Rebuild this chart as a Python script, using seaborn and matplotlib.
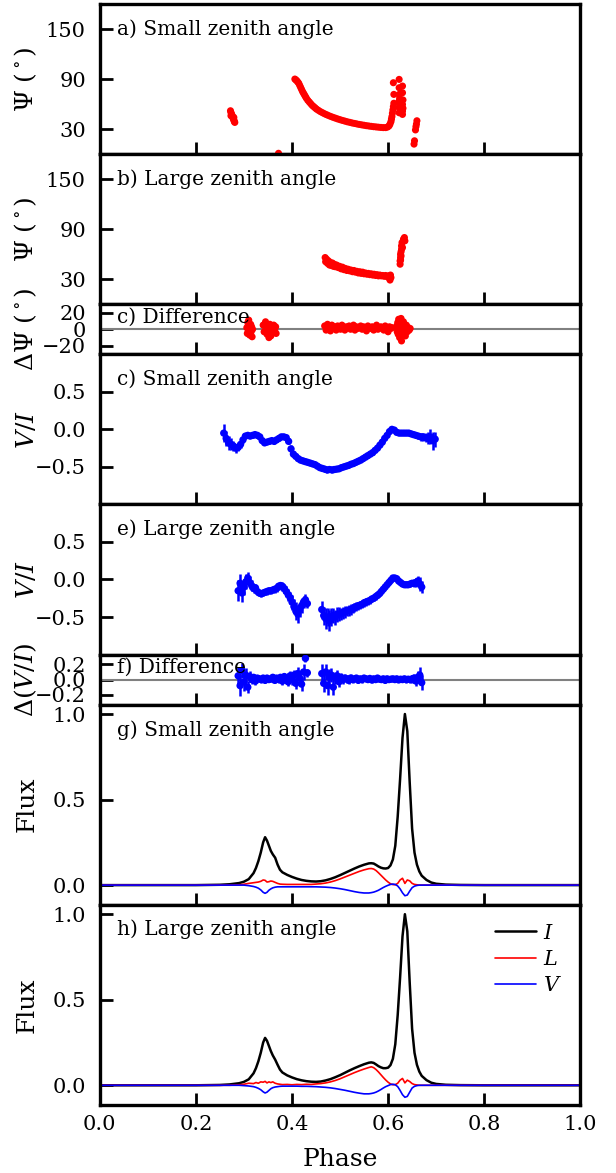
import numpy as np
import pandas as pd
import seaborn as sns
import matplotlib
matplotlib.use("Agg")
import matplotlib.pyplot as plt

# ---------------------------------------------------------------- data
# Position angle, small zenith angle (phase, degrees)
pa_small_phase = [0.272, 0.273, 0.273, 0.274, 0.275, 0.276, 0.277, 0.278, 0.279, 0.279, 0.280, 0.281,
                  0.372,
                  0.406, 0.408, 0.410, 0.412, 0.414, 0.416, 0.418, 0.420, 0.422, 0.424, 0.426, 0.428,
                  0.430, 0.433, 0.436, 0.439, 0.442, 0.445, 0.448, 0.451, 0.455, 0.459, 0.463, 0.467,
                  0.471, 0.475, 0.480, 0.485, 0.490, 0.495, 0.500, 0.505, 0.510, 0.515, 0.520, 0.525,
                  0.530, 0.535, 0.540, 0.545, 0.550, 0.555, 0.560, 0.565, 0.570, 0.575, 0.580, 0.585,
                  0.590, 0.595, 0.599, 0.602, 0.604, 0.606, 0.607, 0.608, 0.609, 0.610, 0.611, 0.612,
                  0.611, 0.612, 0.623, 0.623, 0.623, 0.623, 0.623, 0.623, 0.624, 0.624,
                  0.630, 0.630, 0.630, 0.630, 0.630, 0.631, 0.631,
                  0.660, 0.659, 0.658, 0.657, 0.655, 0.654]
pa_small = [52, 50, 46, 48, 47, 45, 44, 42, 41, 44, 39, 38,
            1.0,
            90, 89, 88, 86.5, 85, 82.5, 80, 77.5, 75, 73, 71, 69,
            67, 64.5, 62.5, 60.5, 58.5, 57, 55.5, 54, 52.5, 51, 49.8, 48.6,
            47.5, 46.5, 45.3, 44.2, 43.2, 42.2, 41.3, 40.4, 39.6, 38.8, 38.1, 37.4,
            36.8, 36.2, 35.6, 35.1, 34.6, 34.1, 33.7, 33.3, 32.9, 32.6, 32.3, 32.0,
            31.8, 31.8, 32.5, 33.8, 36, 39, 42, 45, 49, 53, 57, 61,
            85.6, 71.6, 89.6, 79.6, 71.6, 63.6, 55.6, 49.6, 60, 67,
            81.6, 73.6, 59.6, 51.6, 47.6, 55, 65,
            40, 36, 33, 29, 16, 12]

# Position angle, large zenith angle
pa_large_phase = [0.469, 0.470, 0.472, 0.474, 0.476, 0.478, 0.480, 0.482, 0.484, 0.486, 0.488, 0.490,
                  0.493, 0.496, 0.499, 0.502, 0.505, 0.508, 0.511, 0.514, 0.517, 0.520, 0.523, 0.526,
                  0.529, 0.532, 0.535, 0.538, 0.541, 0.544, 0.547, 0.550, 0.553, 0.556, 0.559, 0.562,
                  0.565, 0.568, 0.571, 0.574, 0.577, 0.580, 0.583, 0.586, 0.589, 0.592, 0.595, 0.598,
                  0.601, 0.603, 0.604, 0.605, 0.606,
                  0.625, 0.625, 0.626, 0.626, 0.627, 0.628, 0.628, 0.629, 0.632, 0.634, 0.635, 0.627,
                  0.626, 0.630]
pa_large = [56, 51, 54, 49, 52, 47, 50, 46.5, 49.5, 45.5, 48, 45,
            47, 44, 45.5, 42.5, 44.5, 41.5, 43, 40.5, 42, 40, 41, 39,
            40.5, 38.5, 39.5, 37.5, 39, 37, 38.5, 36.5, 37.5, 36, 37, 35.5,
            36.5, 35, 36, 34.5, 35.5, 34, 35, 34, 34.5, 33.5, 34.5, 33,
            34, 31, 29, 35, 32,
            48, 52, 56, 60, 63, 66, 70, 74, 78, 80, 76, 58,
            53, 68]

# Position angle difference
dpa_phase = [0.306, 0.307, 0.308, 0.309, 0.310, 0.311, 0.312, 0.313, 0.314, 0.315, 0.316, 0.317, 0.318,
             0.340, 0.342, 0.344, 0.346, 0.348, 0.350, 0.352, 0.354, 0.356, 0.358, 0.360, 0.362,
             0.364, 0.366, 0.367, 0.352, 0.345,
             0.468, 0.471, 0.474, 0.477, 0.480, 0.483, 0.486, 0.489, 0.492, 0.495, 0.498, 0.501,
             0.504, 0.507, 0.510, 0.513, 0.516, 0.519, 0.522, 0.525, 0.528, 0.531, 0.534, 0.537,
             0.540, 0.543, 0.546, 0.549, 0.552, 0.555, 0.558, 0.561, 0.564, 0.567, 0.570, 0.573,
             0.576, 0.579, 0.582, 0.585, 0.588, 0.591, 0.594, 0.597, 0.600, 0.603, 0.606, 0.608,
             0.618, 0.619, 0.620, 0.621, 0.622, 0.623, 0.624, 0.625, 0.626, 0.627, 0.628, 0.629,
             0.630, 0.632, 0.634, 0.636, 0.638, 0.640, 0.642, 0.644, 0.646]
dpa = [2, -5, 8, -2, 11, 4, -7, 1, 6, -3, 3, -9, 0,
       5, -3, 7, 0, -6, 4, -2, 6, -8, 2, -4, 5,
       -1, 3, -5, -10, 9,
       4, -1, 6, 2, -2, 5, 1, 3, -1, 4, 2, 0,
       5, 1, -1, 3, 2, 4, 0, 2, 5, -1, 3, 1,
       2, 4, 0, 3, 1, -2, 4, 2, 1, 3, -1, 2,
       5, 0, 2, 3, 1, -1, 4, 2, -3, 3, 1, 2,
       4, -3, 8, -6, 12, 2, -10, 6, -2, 13, -14, 3,
       -5, 9, 0, -8, 5, -3, 2, -1, 1]

# Circular fraction V/I, small zenith angle (bins of 0.005 from phase 0.258)
vi_small_start = 0.258
vi_small = [-0.05, -0.12, -0.18, -0.20, -0.22, -0.25, -0.24, -0.20, -0.14, -0.09,
            -0.08, -0.09, -0.08, -0.07, -0.08, -0.10, -0.15, -0.18, -0.17, -0.16,
            -0.15, -0.16, -0.14, -0.12, -0.10, -0.10, -0.11, -0.16, -0.26, -0.33,
            -0.36, -0.39, -0.41, -0.42, -0.43, -0.44, -0.45, -0.46, -0.47, -0.49,
            -0.51, -0.52, -0.53, -0.54, -0.535, -0.54, -0.535, -0.53, -0.525, -0.51,
            -0.50, -0.49, -0.48, -0.465, -0.455, -0.44, -0.425, -0.41, -0.39, -0.37,
            -0.35, -0.33, -0.31, -0.28, -0.25, -0.21, -0.17, -0.12, -0.08, -0.03,
            0.00, -0.01, -0.04, -0.05, -0.05, -0.05, -0.05, -0.05, -0.06, -0.07,
            -0.08, -0.09, -0.10, -0.10, -0.11, -0.12, -0.10, -0.15, -0.13]
vi_small_err = [0.12, 0.10, 0.09, 0.08, 0.07, 0.06, 0.05, 0.05, 0.04, 0.04,
                0.035, 0.03, 0.035, 0.03, 0.03, 0.035, 0.03, 0.03, 0.03, 0.03,
                0.03, 0.03, 0.03, 0.03, 0.03, 0.03, 0.03, 0.04, 0.05, 0.04,
                0.03, 0.03, 0.03, 0.03, 0.03, 0.03, 0.03, 0.03, 0.03, 0.03,
                0.035, 0.035, 0.035, 0.04, 0.035, 0.035, 0.03, 0.03, 0.03, 0.03,
                0.025, 0.025, 0.025, 0.025, 0.025, 0.025, 0.025, 0.025, 0.025, 0.025,
                0.025, 0.025, 0.025, 0.025, 0.025, 0.025, 0.025, 0.025, 0.025, 0.025,
                0.025, 0.025, 0.025, 0.025, 0.025, 0.025, 0.025, 0.03, 0.03, 0.03,
                0.035, 0.04, 0.05, 0.05, 0.06, 0.08, 0.10, 0.12, 0.10]

# Circular fraction V/I, large zenith angle (two on-pulse windows, bins of 0.004)
vi_large_start = [0.288, 0.462]
vi_large = [
    [-0.15, -0.05, -0.18, -0.10, -0.03, 0.02, -0.04, -0.08, -0.12, -0.11,
     -0.16, -0.18, -0.19, -0.18, -0.17, -0.16, -0.15, -0.15, -0.14, -0.13,
     -0.12, -0.09, -0.08, -0.09, -0.12, -0.16, -0.20, -0.24, -0.30, -0.36,
     -0.42, -0.46, -0.40, -0.35, -0.30, -0.27, -0.32],
    [-0.40, -0.48, -0.52, -0.50, -0.55, -0.50, -0.48, -0.50, -0.47, -0.46,
     -0.46, -0.44, -0.43, -0.42, -0.41, -0.40, -0.39, -0.37, -0.36, -0.35,
     -0.34, -0.33, -0.31, -0.30, -0.29, -0.28, -0.26, -0.25, -0.23, -0.21,
     -0.19, -0.16, -0.13, -0.10, -0.07, -0.04, -0.01, 0.02, 0.02, 0.01,
     -0.02, -0.04, -0.06, -0.07, -0.07, -0.07, -0.06, -0.05, -0.05, -0.04,
     -0.02, -0.06, -0.10]]
vi_large_err = [
    [0.14, 0.12, 0.12, 0.10, 0.10, 0.08, 0.08, 0.07, 0.06, 0.05,
     0.05, 0.04, 0.04, 0.04, 0.04, 0.04, 0.04, 0.04, 0.04, 0.05,
     0.05, 0.05, 0.05, 0.06, 0.06, 0.07, 0.08, 0.08, 0.10, 0.10,
     0.12, 0.12, 0.10, 0.10, 0.08, 0.08, 0.06],
    [0.12, 0.12, 0.14, 0.12, 0.14, 0.12, 0.10, 0.10, 0.10, 0.09,
     0.08, 0.08, 0.08, 0.07, 0.07, 0.07, 0.06, 0.06, 0.06, 0.05,
     0.05, 0.05, 0.05, 0.05, 0.045, 0.045, 0.04, 0.04, 0.04, 0.04,
     0.04, 0.04, 0.035, 0.035, 0.035, 0.035, 0.035, 0.03, 0.03, 0.03,
     0.03, 0.03, 0.03, 0.03, 0.035, 0.035, 0.04, 0.04, 0.05, 0.06,
     0.07, 0.09, 0.08]]

# Difference in V/I (same bins as the large zenith angle)
dvi = [
    [0.05, -0.08, 0.12, -0.03, 0.06, -0.10, 0.04, 0.0, 0.03, -0.02,
     0.02, 0.01, 0.0, 0.02, -0.01, 0.02, 0.0, 0.01, 0.03, -0.01,
     0.02, 0.0, 0.03, -0.02, 0.04, 0.01, -0.03, 0.05, 0.0, 0.06,
     -0.05, 0.08, 0.02, -0.06, 0.10, 0.28, 0.09],
    [0.08, -0.05, 0.10, -0.08, 0.04, 0.06, -0.10, 0.02, 0.05, -0.03,
     0.03, 0.0, 0.02, 0.01, -0.01, 0.02, 0.0, 0.01, 0.02, -0.01,
     0.01, 0.0, 0.02, 0.01, 0.0, 0.015, -0.005, 0.01, 0.0, 0.02,
     0.005, 0.0, 0.01, -0.01, 0.01, 0.0, 0.005, 0.01, 0.0, 0.01,
     -0.005, 0.005, 0.0, 0.01, 0.0, 0.005, 0.0, 0.01, 0.02, -0.02,
     0.03, 0.06, -0.04]]
dvi_err = [
    [0.12, 0.14, 0.10, 0.12, 0.09, 0.08, 0.07, 0.06, 0.05, 0.05,
     0.04, 0.04, 0.04, 0.035, 0.035, 0.035, 0.035, 0.04, 0.04, 0.04,
     0.04, 0.045, 0.05, 0.05, 0.05, 0.06, 0.06, 0.06, 0.07, 0.07,
     0.08, 0.08, 0.09, 0.09, 0.10, 0.05, 0.05],
    [0.12, 0.12, 0.10, 0.12, 0.10, 0.09, 0.10, 0.08, 0.08, 0.07,
     0.06, 0.06, 0.05, 0.05, 0.05, 0.05, 0.045, 0.045, 0.04, 0.04,
     0.04, 0.04, 0.04, 0.035, 0.035, 0.035, 0.035, 0.035, 0.03, 0.03,
     0.03, 0.03, 0.03, 0.03, 0.03, 0.03, 0.03, 0.03, 0.03, 0.03,
     0.03, 0.03, 0.035, 0.035, 0.04, 0.04, 0.045, 0.05, 0.06, 0.07,
     0.08, 0.10, 0.10]]

# Normalised pulse profiles
flux_phase = [0.0, 0.1, 0.2, 0.25, 0.27, 0.29, 0.30, 0.31, 0.32, 0.325,
              0.33, 0.335, 0.34, 0.344, 0.348, 0.352, 0.356, 0.36, 0.365, 0.37,
              0.375, 0.38, 0.39, 0.40, 0.41, 0.42, 0.43, 0.44, 0.45, 0.46,
              0.47, 0.48, 0.49, 0.50, 0.51, 0.52, 0.53, 0.54, 0.55, 0.56,
              0.565, 0.57, 0.575, 0.58, 0.585, 0.59, 0.595, 0.60, 0.605, 0.61,
              0.615, 0.62, 0.625, 0.63, 0.635, 0.64, 0.645, 0.65, 0.655, 0.66,
              0.665, 0.67, 0.68, 0.69, 0.70, 0.72, 0.75, 0.8, 0.9, 1.0]
I_small = [0.0, 0.0, 0.0, 0.002, 0.005, 0.012, 0.02, 0.035, 0.07, 0.10,
           0.14, 0.19, 0.25, 0.28, 0.26, 0.23, 0.20, 0.18, 0.16, 0.12,
           0.09, 0.075, 0.06, 0.048, 0.038, 0.03, 0.025, 0.022, 0.021, 0.023,
           0.028, 0.036, 0.046, 0.058, 0.071, 0.084, 0.097, 0.109, 0.119, 0.127,
           0.128, 0.126, 0.118, 0.109, 0.102, 0.098, 0.097, 0.10, 0.115, 0.15,
           0.23, 0.40, 0.62, 0.86, 1.0, 0.90, 0.60, 0.33, 0.19, 0.12,
           0.08, 0.055, 0.03, 0.015, 0.008, 0.003, 0.001, 0.0, 0.0, 0.0]
L_small = [0, 0, 0, 0, 0, 0.002, 0.005, 0.01, 0.014, 0.016,
           0.018, 0.022, 0.03, 0.028, 0.018, 0.02, 0.024, 0.022, 0.016, 0.01,
           0.006, 0.005, 0.004, 0.004, 0.004, 0.004, 0.004, 0.004, 0.006, 0.008,
           0.012, 0.018, 0.026, 0.036, 0.047, 0.058, 0.069, 0.08, 0.089, 0.096,
           0.097, 0.094, 0.085, 0.072, 0.058, 0.044, 0.03, 0.018, 0.008, 0.003,
           0.002, 0.01, 0.03, 0.04, 0.01, 0.03, 0.025, 0.01, 0.004, 0.002,
           0, 0, 0, 0, 0, 0, 0, 0, 0, 0]
V_small = [0, 0, 0, 0, 0, 0, 0, -0.003, -0.008, -0.012,
           -0.018, -0.028, -0.042, -0.048, -0.042, -0.03, -0.022, -0.016, -0.012, -0.01,
           -0.01, -0.01, -0.01, -0.01, -0.01, -0.01, -0.01, -0.01, -0.01, -0.011,
           -0.012, -0.014, -0.017, -0.021, -0.026, -0.032, -0.038, -0.043, -0.046, -0.046,
           -0.044, -0.041, -0.036, -0.03, -0.022, -0.014, -0.007, -0.001, 0.004, 0.006,
           0.004, -0.005, -0.022, -0.045, -0.062, -0.058, -0.035, -0.015, -0.006, -0.002,
           0, 0, 0, 0, 0, 0, 0, 0, 0, 0]
I_large = [0.0, 0.0, 0.0, 0.002, 0.005, 0.012, 0.02, 0.035, 0.07, 0.10,
           0.14, 0.19, 0.25, 0.277, 0.26, 0.23, 0.20, 0.175, 0.15, 0.12,
           0.092, 0.075, 0.058, 0.046, 0.036, 0.029, 0.024, 0.021, 0.02, 0.022,
           0.028, 0.036, 0.047, 0.059, 0.073, 0.087, 0.1, 0.112, 0.123, 0.132,
           0.134, 0.131, 0.122, 0.112, 0.105, 0.1, 0.1, 0.103, 0.118, 0.155,
           0.24, 0.41, 0.63, 0.87, 1.0, 0.90, 0.60, 0.33, 0.19, 0.12,
           0.08, 0.055, 0.03, 0.015, 0.008, 0.003, 0.001, 0.0, 0.0, 0.0]
L_large = [0, 0, 0, 0, 0, 0.003, 0.006, 0.012, 0.01, 0.016,
           0.012, 0.02, 0.018, 0.023, 0.014, 0.02, 0.016, 0.02, 0.012, 0.008,
           0.006, 0.004, 0.005, 0.003, 0.005, 0.004, 0.006, 0.005, 0.008, 0.01,
           0.014, 0.02, 0.028, 0.038, 0.05, 0.062, 0.074, 0.085, 0.095, 0.104,
           0.108, 0.103, 0.092, 0.078, 0.062, 0.046, 0.031, 0.018, 0.008, 0.003,
           0.004, 0.012, 0.03, 0.04, 0.014, 0.03, 0.022, 0.01, 0.004, 0.002,
           0, 0, 0, 0, 0, 0, 0, 0, 0, 0]
V_large = [0, 0, 0, 0, 0, 0, -0.002, -0.004, -0.008, -0.012,
           -0.018, -0.026, -0.038, -0.045, -0.04, -0.03, -0.02, -0.014, -0.01, -0.008,
           -0.006, -0.005, -0.005, -0.005, -0.005, -0.006, -0.006, -0.007, -0.008, -0.01,
           -0.012, -0.015, -0.019, -0.024, -0.029, -0.035, -0.041, -0.046, -0.05, -0.05,
           -0.048, -0.045, -0.04, -0.033, -0.025, -0.016, -0.008, -0.002, 0.004, 0.006,
           0.003, -0.008, -0.03, -0.055, -0.07, -0.065, -0.04, -0.016, -0.006, -0.002,
           0, 0, 0, 0, 0, 0, 0, 0, 0, 0]

panel_labels = ["a) Small zenith angle", "b) Large zenith angle", "c) Difference",
                "c) Small zenith angle", "e) Large zenith angle", "f) Difference",
                "g) Small zenith angle", "h) Large zenith angle"]

# ---------------------------------------------------------------- style
sns.set_style("white")
plt.rcParams.update({
    "font.family": ["DejaVu Serif"],
    "mathtext.fontset": "dejavuserif",
    "axes.linewidth": 2.4,
    "axes.edgecolor": "black",
    "xtick.direction": "in",
    "ytick.direction": "in",
    "xtick.major.size": 9,
    "ytick.major.size": 9,
    "xtick.major.width": 2.0,
    "ytick.major.width": 2.0,
    "xtick.major.pad": 7,
    "ytick.major.pad": 10,
    "xtick.labelsize": 15,
    "ytick.labelsize": 15,
    "xtick.color": "black",
    "ytick.color": "black",
    "axes.labelsize": 18,
    "text.color": "black",
    "axes.labelcolor": "black",
})

fig = plt.figure(figsize=(6.16, 11.73), dpi=100)
gs = fig.add_gridspec(8, 1, height_ratios=[3, 3, 1, 3, 3, 1, 4, 4], hspace=0,
                      left=0.162, right=0.942, top=0.9966, bottom=0.058)
axes = [fig.add_subplot(gs[i]) for i in range(8)]


def bins(start, values, step):
    return np.round(start + step * np.arange(len(values)), 4)


def pa_points(ax, phase, pa):
    df = pd.DataFrame({"phase": phase, "pa": pa})
    sns.scatterplot(data=df, x="phase", y="pa", ax=ax, color="red", s=26,
                    edgecolor="none", legend=False, zorder=3)


def vi_points(ax, phase, vals, errs):
    df = pd.DataFrame({"phase": phase, "v": vals, "e": errs})
    ax.vlines(df["phase"], df["v"] - df["e"], df["v"] + df["e"], color="blue", lw=1.8, zorder=2)
    sns.scatterplot(data=df, x="phase", y="v", ax=ax, color="blue", s=28,
                    edgecolor="none", legend=False, zorder=3)


# a, b: position angle
pa_points(axes[0], pa_small_phase, pa_small)
pa_points(axes[1], pa_large_phase, pa_large)
for ax in axes[:2]:
    ax.set_ylim(0, 180)
    ax.set_yticks([30, 90, 150])
    ax.set_ylabel(r"$\Psi\ (^\circ)$")

# position angle difference
axes[2].axhline(0, color="gray", lw=1.5, zorder=1)
pa_points(axes[2], dpa_phase, dpa)
axes[2].set_ylim(-30, 30)
axes[2].set_yticks([-20, 0, 20])
axes[2].set_ylabel(r"$\Delta\Psi\ (^\circ)$")

# V/I
vi_points(axes[3], bins(vi_small_start, vi_small, 0.005), vi_small, vi_small_err)
for start, vals, errs in zip(vi_large_start, vi_large, vi_large_err):
    vi_points(axes[4], bins(start, vals, 0.004), vals, errs)
for ax in axes[3:5]:
    ax.set_ylim(-1, 1)
    ax.set_yticks([-0.5, 0.0, 0.5])
    ax.set_ylabel(r"$V/I$")

# V/I difference
axes[5].axhline(0, color="gray", lw=1.5, zorder=1)
for start, vals, errs in zip(vi_large_start, dvi, dvi_err):
    vi_points(axes[5], bins(start, vals, 0.004), vals, errs)
axes[5].set_ylim(-0.33, 0.33)
axes[5].set_yticks([-0.2, 0.0, 0.2])
axes[5].set_ylabel(r"$\Delta(V/I)$")

# pulse profiles
for ax, I, L, V in [(axes[6], I_small, L_small, V_small), (axes[7], I_large, L_large, V_large)]:
    sns.lineplot(x=flux_phase, y=I, ax=ax, color="black", lw=1.8, label=r"$I$")
    sns.lineplot(x=flux_phase, y=L, ax=ax, color="red", lw=1.2, label=r"$L$")
    sns.lineplot(x=flux_phase, y=V, ax=ax, color="blue", lw=1.2, label=r"$V$")
    ax.set_ylim(-0.115, 1.055)
    ax.set_yticks([0.0, 0.5, 1.0])
    ax.set_ylabel("Flux")
axes[6].get_legend().remove()
axes[7].legend(loc="upper right", frameon=False, fontsize=15, handlelength=2.0,
               handletextpad=0.3, labelspacing=0.35, borderaxespad=0.5)

label_y = [0.90, 0.90, 0.93, 0.90, 0.90, 0.93, 0.92, 0.925]
for i, ax in enumerate(axes):
    ax.set_xlim(0, 1)
    ax.set_xticks([0.0, 0.2, 0.4, 0.6, 0.8, 1.0])
    ax.tick_params(top=False, right=False, bottom=True, left=True)
    if i < 7:
        ax.tick_params(labelbottom=False)
        ax.set_xlabel("")
    ax.yaxis.set_label_coords(-0.127, 0.5)
    ax.text(0.035, label_y[i], panel_labels[i], transform=ax.transAxes, fontsize=14.5,
            ha="left", va="top", zorder=5)
    for s in ax.spines.values():
        s.set_linewidth(2.4)
        s.set_color("black")

axes[7].set_xlabel("Phase", labelpad=10)

fig.savefig("out.png", dpi=100)
